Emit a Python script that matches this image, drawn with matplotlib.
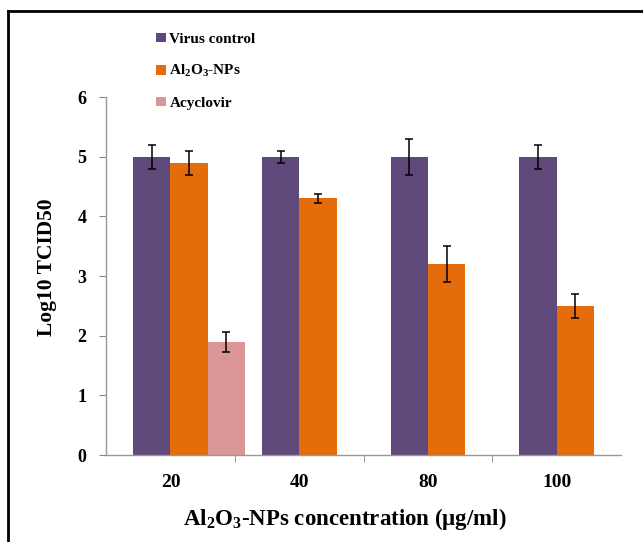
import matplotlib
matplotlib.use("Agg")
import matplotlib.pyplot as plt
from matplotlib.lines import Line2D
import numpy as np

plt.rcParams['font.family'] = ['Liberation Serif', 'DejaVu Serif']
plt.rcParams['font.weight'] = 'bold'
plt.rcParams['mathtext.fontset'] = 'custom'
plt.rcParams['mathtext.rm'] = 'Liberation Serif:bold'
plt.rcParams['mathtext.bf'] = 'Liberation Serif:bold'
plt.rcParams['mathtext.it'] = 'Liberation Serif:bold'

categories = ['20', '40', '80', '100']
series_names = ['Virus control', r'Al$_2$O$_3$-NPs', 'Acyclovir']
virus_control = [5.0, 5.0, 5.0, 5.0]
virus_err = [0.2, 0.1, 0.3, 0.2]
al2o3 = [4.9, 4.3, 3.2, 2.5]
al2o3_err = [0.2, 0.08, 0.3, 0.2]
acyclovir = [1.9]
acyclovir_err = [0.17]
colors = ['#5F497A', '#E46C0A', '#D99694']
yticks = [0, 1, 2, 3, 4, 5, 6]

fig = plt.figure(figsize=(6.43, 5.42), dpi=100)
ax = fig.add_axes([0.165, 0.1605, 0.801, 0.6605])

x = np.arange(len(categories))
w = 0.29
ekw = dict(ecolor='black', elinewidth=1.1, capsize=3, capthick=1.1)
b1 = ax.bar(x - w/2, virus_control, w, color=colors[0], yerr=virus_err, error_kw=ekw)
b2 = ax.bar(x + w/2, al2o3, w, color=colors[1], yerr=al2o3_err, error_kw=ekw)
b3 = ax.bar(x[:len(acyclovir)] + 1.5*w, acyclovir, w, color=colors[2], yerr=acyclovir_err, error_kw=ekw)

ax.set_xlim(-0.5, len(categories) - 0.5)
ax.set_ylim(0, 6)
ax.set_yticks(yticks)
ax.set_xticks(x)
ax.set_xticklabels(categories, fontsize=14, fontweight='bold')
ax.set_xticks(np.arange(0.5, len(categories) - 0.5), minor=True)
ax.tick_params(axis='x', which='major', length=0, pad=14)
ax.tick_params(axis='x', which='minor', length=5, color='#888888', direction='out')
ax.tick_params(axis='y', length=5, color='#888888', labelsize=13, pad=9)
for lbl in ax.get_yticklabels():
    lbl.set_fontweight('bold')

for s in ['top', 'right']:
    ax.spines[s].set_visible(False)
for s in ['left', 'bottom']:
    ax.spines[s].set_color('#999999')
    ax.spines[s].set_linewidth(1.0)

ax.set_ylabel('Log10 TCID50', fontsize=15.5, fontweight='bold')
ax.yaxis.set_label_coords(-0.096, 0.525)
ax.set_xlabel(r'Al$_2$O$_3$-NPs concentration (μg/ml)', fontsize=16.5, fontweight='bold')
ax.xaxis.set_label_coords(0.464, -0.142)

leg = fig.legend([b1, b2, b3], series_names, loc='upper left',
                 bbox_to_anchor=(0.222, 0.965), frameon=False,
                 handlelength=0.6, handleheight=0.6, handletextpad=0.25,
                 labelspacing=1.13, prop={'family': 'Liberation Serif', 'weight': 'bold', 'size': 11})

# figure frame lines (top and left)
fig.add_artist(Line2D([8/643, 1.0], [1 - 11/542, 1 - 11/542], color='black', linewidth=2, transform=fig.transFigure))
fig.add_artist(Line2D([8/643, 8/643], [0.0, 1 - 11/542], color='black', linewidth=2, transform=fig.transFigure))

fig.savefig('out.png', dpi=100)
